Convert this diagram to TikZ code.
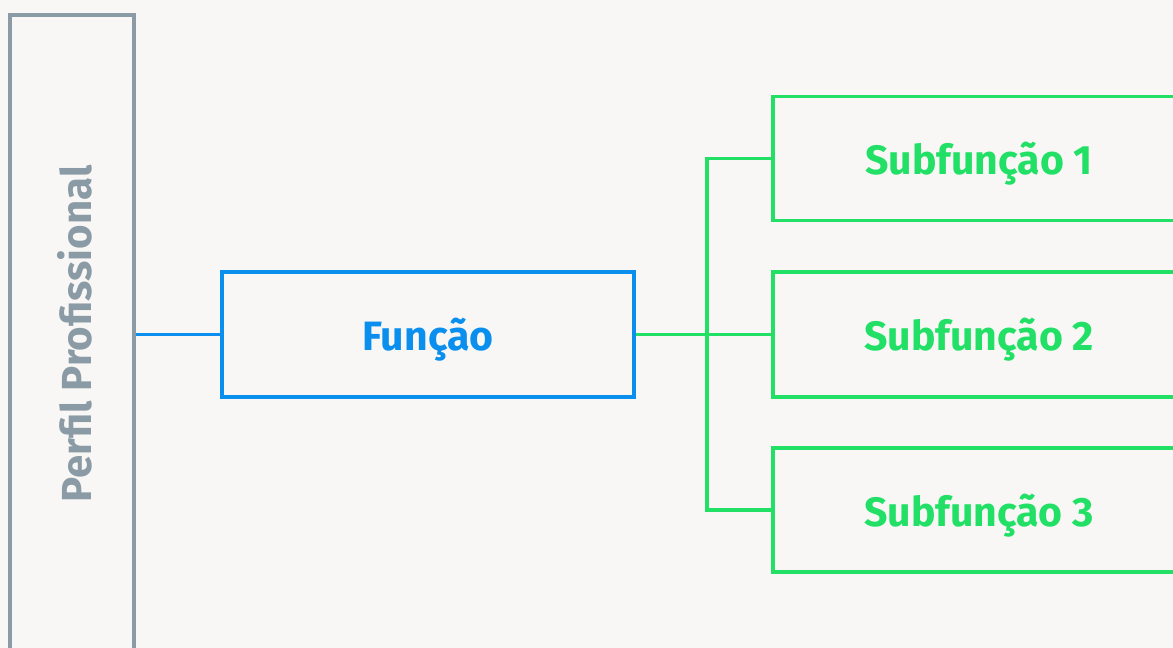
\documentclass[tikz,border=0pt]{standalone}
\usepackage{fontspec}
\setmainfont{Fira Sans}
\usetikzlibrary{positioning}
\definecolor{fundo}{HTML}{F8F7F5}
\definecolor{cinza}{HTML}{8A9BA6}
\definecolor{azul}{HTML}{0B8FEF}
\definecolor{verde}{HTML}{22E066}
\tikzset{
        % boxes
        caixa/.style={draw, line width=3.2pt, inner sep=0pt, minimum width=412pt, minimum height=125pt,
            text depth=0pt, font=\fontsize{41}{44}\selectfont\bfseries},
        caixaperfil/.style={draw=cinza, line width=3.2pt, inner sep=0pt, minimum width=124pt, minimum height=640pt},
        % connectors
        ligazul/.style={draw=azul, line width=3.2pt},
        ligverde/.style={draw=verde, line width=3.2pt},
}
\begin{document}
\begin{tikzpicture}[x=1pt,y=-1pt]
%background and page size
\fill[fundo] (0,0) rectangle (1173,648);
\useasboundingbox (0,0) rectangle (1173,648);

%Perfil
\node[caixaperfil] (perfil) at (72,335) {};
\node[text=cinza, rotate=90, font=\fontsize{42}{44}\selectfont\bfseries] (perfiltexto) at (75,334) {Perfil Profissional};

%Funcao
\node[caixa, draw=azul, text=azul] (funcao) at (428,334.5) {Função};

%Subfuncoes
\node[caixa, draw=verde, text=verde, minimum height=124pt] (sub1) at (979,158.5) {Subfunção 1};
\node[caixa, draw=verde, text=verde] (sub2) at (979,334.5) {Subfunção 2};
\node[caixa, draw=verde, text=verde, minimum height=124pt] (sub3) at (979,510) {Subfunção 3};

%connectors
\coordinate (tronco) at (707,334.5);
\draw[ligazul] (perfil.east |- funcao.west) -- (funcao.west);
\draw[ligverde] (funcao.east) -- (sub2.west);
\draw[ligverde] (sub1.west) -| (tronco) |- (sub3.west);

\end{tikzpicture}
\end{document}
